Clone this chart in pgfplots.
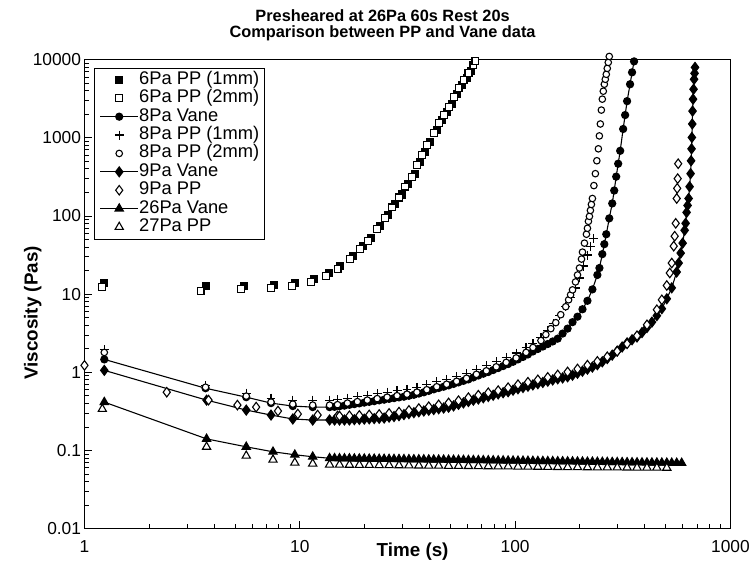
\documentclass[border=0pt]{standalone}
\usepackage{fontspec}
\setmainfont{Liberation Sans}
\usepackage{pgfplots}
\pgfplotsset{compat=1.18}
\begin{document}
\begin{tikzpicture}
\begin{axis}[
 scale only axis, width=650bp, height=472bp,
 xmode=log, ymode=log, xmin=1, xmax=1000, ymin=0.01, ymax=10000,
 xtick={1,10,100,1000}, xticklabels={1,10,100,1000},
 ytick={0.01,0.1,1,10,100,1000,10000}, yticklabels={0.01,0.1,1,10,100,1000,10000},
 minor xtick={2,3,4,5,6,7,8,9,20,30,40,50,60,70,80,90,200,300,400,500,600,700,800,900},
 minor ytick={0.02,0.03,0.04,0.05,0.06,0.07,0.08,0.09,0.2,0.3,0.4,0.5,0.6,0.7,0.8,0.9,2,3,4,5,6,7,8,9,20,30,40,50,60,70,80,90,200,300,400,500,600,700,800,900,2000,3000,4000,5000,6000,7000,8000,9000},
 tick pos=left, tick align=inside, major tick length=8bp, minor tick length=5bp,
 tick style={black, line width=0.9bp},
 axis line style={line width=0.9bp},
 ticklabel style={font=\fontsize{17.5}{17.5}\selectfont},
 xticklabel style={yshift=-8bp},
 clip=false,
 xlabel={Time (s)}, ylabel={Viscosity (Pas)},
 label style={font=\bfseries\fontsize{19}{19}\selectfont},
 xlabel style={at={(rel axis cs:0.508,-0.05)}, anchor=center},
 ylabel style={at={(rel axis cs:-0.08,0.46)}, anchor=center},
 title={Presheared at 26Pa 60s Rest 20s\\Comparison between PP and Vane data},
 title style={at={(rel axis cs:0.4615,1)}, anchor=south, yshift=9bp, align=center, font=\bfseries\fontsize{16.5}{16.5}\selectfont},
 legend style={at={(rel axis cs:0.0154,0.983)}, anchor=north west, draw=black, line width=0.8bp, font=\fontsize{18.5}{18.5}\selectfont, inner xsep=5bp, inner ysep=3bp, row sep=0.5bp, column sep=0bp, nodes={inner sep=0.5bp, text height=13bp, text depth=4bp}},
 legend cell align=left,
 legend image code/.code={\draw[mark repeat=2,mark phase=2] plot coordinates {(0bp,0bp) (19bp,0bp) (38bp,0bp)};},
 every axis plot/.append style={black, line width=1.1bp},
]
% 6Pa PP (1mm)
\addplot[only marks, mark=square*, mark size=3.5pt, mark options={fill=black}] coordinates {
(1.236,13.92) (3.65,12.75) (5.52,12.75) (7.59,13.13) (9.48,13.92) (11.60,15.65) (13.60,18.65) (15.45,22.88) (17.74,30.7) (19.72,41.1) (21.47,51.9) (23.62,73.8) (25.71,101.8) (27.70,140.4) (29.83,188.2) (31.80,259.6) (34.24,347.8) (36.12,494.1) (38.08,661.9) (40.16,887.3) (43.25,1260) (45.61,1689) (48.09,2134) (50.72,2696) (53.48,3613) (56.40,4701) (59.47,5769) (62.71,7081)};
\addlegendentry{6Pa PP (1mm)}
% 6Pa PP (2mm)
\addplot[only marks, mark=square*, mark size=3.5pt, mark options={fill=white}] coordinates {
(1.21,12.38) (3.46,11.02) (5.35,11.68) (7.35,12.0) (9.19,12.75) (11.24,14.33) (13.18,17.08) (14.97,20.96) (17.18,28.1) (19.10,37.6) (20.80,47.6) (22.87,67.6) (24.91,93.2) (26.83,128.6) (28.89,172.3) (30.80,237.8) (33.18,318.6) (34.99,452.5) (36.89,606.3) (38.90,812.6) (41.90,1154) (44.18,1546) (46.59,1954) (49.12,2469) (51.81,3309) (54.63,4307) (57.61,5441) (60.75,6677) (64.06,8438) (65.43,9487)};
\addlegendentry{6Pa PP (2mm)}
% 8Pa Vane
\addplot[mark=*, mark size=3.6pt, mark options={fill=black}] coordinates {
(1.236,1.463) (3.65,0.626) (5.64,0.481) (7.35,0.404) (9.28,0.370) (11.48,0.359) (13.75,0.359) (14.50,0.362) (15.29,0.368) (16.12,0.375) (17.00,0.384) (17.92,0.392) (18.90,0.401) (19.93,0.410) (21.01,0.419) (22.16,0.428) (23.37,0.438) (24.64,0.447) (25.98,0.458) (27.39,0.468) (28.89,0.478) (30.46,0.488) (32.12,0.501) (33.87,0.516) (35.71,0.535) (37.66,0.555) (39.71,0.579) (41.87,0.606) (44.15,0.630) (46.56,0.654) (49.09,0.681) (51.77,0.711) (54.59,0.744) (57.56,0.778) (60.69,0.812) (64.00,0.861) (67.49,0.911) (71.16,0.960) (75.04,1.009) (79.12,1.070) (83.43,1.134) (87.98,1.203) (92.77,1.275) (97.82,1.364) (103.1,1.463) (108.8,1.574) (114.7,1.694) (120.9,1.849) (127.5,1.989) (134.5,2.140) (141.8,2.302) (149.5,2.483) (157.7,2.697) (166.2,3.131) (175.3,3.624) (184.8,4.384) (194.9,5.150) (205.5,6.41) (216.7,8.22) (228.5,11.5) (241.0,17.6) (246.4,21.6) (254.1,32.5) (259.6,43.6) (265.1,58.4) (273.7,93.2) (282.5,144.6) (288.6,211.5) (294.8,318.6) (301.1,466.1) (307.6,681.6) (317.5,1296) (324.3,1954) (331.2,2944) (341.9,4841) (349.3,6876) (356.8,9487)};
\addlegendentry{8Pa Vane}
% 8Pa PP (1mm)
\addplot[only marks, mark=+, mark size=4.5pt, line width=1.2bp] coordinates {
(1.236,1.960) (3.65,0.684) (5.64,0.541) (7.35,0.467) (9.28,0.441) (11.48,0.441) (13.75,0.441) (14.97,0.447) (16.64,0.467) (18.51,0.488) (20.58,0.510) (22.87,0.533) (25.44,0.557) (28.29,0.582) (31.46,0.608) (34.99,0.645) (38.90,0.694) (43.25,0.757) (48.09,0.815) (53.48,0.890) (59.47,0.971) (66.13,1.092) (73.53,1.209) (81.74,1.360) (90.88,1.551) (101.1,1.769) (112.4,2.078) (121.0,2.336) (131.8,2.785) (141.9,3.42) (151.2,4.19) (161.3,5.30) (171.8,6.90) (181.2,8.98) (191.1,12.0) (199.4,16.11) (208.0,22.88) (217.0,31.6) (224.0,41.1) (231.2,51.9)};
\addlegendentry{8Pa PP (1mm)}
% 8Pa PP (2mm)
\addplot[only marks, mark=*, mark size=3.3pt, mark options={fill=white}] coordinates {
(1.236,1.796) (3.65,0.645) (5.64,0.496) (7.35,0.416) (9.28,0.392) (11.48,0.381) (13.75,0.381) (14.97,0.386) (16.64,0.404) (18.51,0.422) (20.58,0.441) (22.87,0.461) (25.44,0.481) (28.29,0.503) (31.46,0.525) (34.99,0.557) (38.90,0.599) (43.25,0.654) (48.09,0.704) (53.48,0.768) (59.47,0.839) (66.13,0.943) (73.53,1.045) (81.74,1.175) (90.88,1.340) (101.1,1.528) (112.4,1.796) (121.0,2.078) (131.8,2.551) (138.9,3.04) (146.5,3.62) (154.5,4.32) (162.9,5.46) (171.8,6.90) (177.2,8.46) (181.0,9.80) (184.8,11.34) (190.8,14.33) (194.9,17.6) (199.1,21.59) (203.4,28.1) (205.5,34.5) (209.9,44.9) (214.4,58.4) (216.7,69.6) (219.0,85.4) (221.4,98.8) (223.7,117.8) (226.1,140.4) (228.5,167.3) (232.2,244.8) (235.9,347.8) (239.6,508.7) (243.6,722.7) (246.2,1057) (248.8,1502) (251.5,2262) (254.1,3121) (256.8,3944) (259.6,4841) (262.3,5603) (265.1,6486) (267.9,7730) (270.8,9213) (273.7,10980)};
\addlegendentry{8Pa PP (2mm)}
% 9Pa Vane
\addplot[mark=diamond*, mark size=5pt, mark options={fill=black}] coordinates {
(1.236,1.060) (3.69,0.441) (5.64,0.329) (7.35,0.284) (9.28,0.253) (11.48,0.245) (13.75,0.2456) (14.50,0.2456) (15.29,0.2456) (16.12,0.2456) (17.00,0.2456) (17.92,0.248) (18.90,0.250) (19.93,0.252) (21.01,0.254) (22.16,0.256) (23.37,0.258) (24.64,0.260) (25.98,0.267) (27.39,0.272) (28.89,0.279) (30.46,0.288) (32.12,0.296) (33.87,0.305) (35.71,0.312) (37.66,0.320) (39.71,0.327) (41.87,0.334) (44.15,0.342) (46.56,0.349) (49.09,0.358) (51.77,0.372) (54.59,0.389) (57.56,0.406) (60.69,0.423) (64.00,0.440) (67.49,0.455) (71.16,0.473) (75.04,0.491) (79.12,0.509) (83.43,0.529) (87.98,0.548) (92.77,0.564) (97.82,0.591) (103.1,0.616) (108.8,0.639) (114.7,0.664) (120.9,0.690) (127.5,0.715) (134.5,0.742) (141.8,0.769) (149.5,0.799) (157.7,0.827) (166.2,0.848) (175.3,0.877) (184.8,0.919) (194.9,0.972) (205.5,1.033) (216.7,1.098) (228.5,1.167) (241.0,1.249) (254.1,1.362) (267.9,1.497) (282.5,1.66) (297.9,1.87) (314.1,2.11) (331.2,2.38) (349.3,2.61) (368.3,2.83) (388.4,3.224) (409.5,3.732) (431.8,4.384) (455.3,5.301) (480.1,6.51) (506.3,8.72) (533.8,12.03) (562.9,19.2) (575.0,25.0) (587.3,33.5) (599.9,44.9) (612.8,65.6) (619.4,80.5) (625.9,111.1) (632.6,136.3) (639.4,167.3) (646.2,237) (653.1,347.8) (656.6,508) (660.0,722.7) (662.1,1010) (664.9,1502) (667.0,2195) (670.6,3121) (674.2,4182) (677.8,5603) (681.4,6677) (685.0,7960)};
\addlegendentry{9Pa Vane}
% 9Pa PP
\addplot[only marks, mark=diamond*, mark size=4.8pt, mark options={fill=white}] coordinates {
(1.00,1.227) (2.41,0.557) (3.77,0.441) (5.13,0.381) (6.27,0.359) (7.92,0.320) (9.79,0.293) (12.10,0.284) (14.97,0.276) (15.29,0.276) (17.00,0.278) (18.90,0.281) (21.01,0.285) (23.37,0.289) (25.98,0.298) (28.89,0.310) (32.12,0.326) (35.71,0.344) (39.71,0.363) (44.15,0.384) (49.09,0.406) (54.59,0.434) (60.69,0.474) (67.49,0.510) (75.04,0.548) (83.43,0.583) (92.77,0.637) (103.1,0.696) (114.7,0.747) (127.5,0.801) (141.8,0.862) (157.7,0.927) (175.3,1.012) (194.9,1.105) (216.7,1.235) (241.0,1.380) (267.9,1.582) (297.9,1.858) (331.2,2.316) (368.3,2.94) (409.5,4.05) (455.3,6.32) (480.1,8.46) (506.3,12.9) (522.7,18.65) (533.8,25.0) (545.3,41.1) (551.1,55.1) (557.0,80.5) (562.9,167.3) (565.9,225.6) (568.9,300.5) (572.0,466.1)};
\addlegendentry{9Pa PP}
% 26Pa Vane
\addplot[mark=triangle*, mark size=4.8pt, mark options={fill=black}] coordinates {
(1.236,0.416) (3.69,0.1408) (5.64,0.1114) (7.51,0.0963) (9.48,0.0882) (11.48,0.0832) (13.75,0.0796) (14.50,0.0795) (15.29,0.0793) (16.12,0.0791) (17.00,0.0790) (17.92,0.0788) (18.90,0.0787) (19.93,0.0785) (21.01,0.0783) (22.16,0.0782) (23.37,0.0780) (24.64,0.0779) (25.98,0.0777) (27.39,0.0776) (28.89,0.0774) (30.46,0.0773) (32.12,0.0771) (33.87,0.0770) (35.71,0.0768) (37.66,0.0767) (39.71,0.0765) (41.87,0.0764) (44.15,0.0762) (46.56,0.0761) (49.09,0.0759) (51.77,0.0758) (54.59,0.0756) (57.56,0.0755) (60.69,0.0753) (64.00,0.0752) (67.49,0.0750) (71.16,0.0749) (75.04,0.0747) (79.12,0.0746) (83.43,0.0744) (87.98,0.0743) (92.77,0.0741) (97.82,0.0740) (103.1,0.0738) (108.8,0.0737) (114.7,0.0735) (120.9,0.0734) (127.5,0.0732) (134.5,0.0731) (141.8,0.0729) (149.5,0.0728) (157.7,0.0726) (166.2,0.0725) (175.3,0.0723) (184.8,0.0722) (194.9,0.0720) (205.5,0.0719) (216.7,0.0717) (228.5,0.0716) (241.0,0.0714) (254.1,0.0713) (267.9,0.0711) (282.5,0.0710) (297.9,0.0708) (314.1,0.0707) (331.2,0.0705) (349.3,0.0704) (368.3,0.0702) (388.4,0.0701) (409.5,0.0700) (431.8,0.0699) (455.3,0.0698) (480.1,0.0697) (506.3,0.0696) (533.8,0.0695) (562.9,0.0694) (593.6,0.0693)};
\addlegendentry{26Pa Vane}
% 27Pa PP
\addplot[only marks, mark=triangle*, mark size=4.8pt, mark options={fill=white}] coordinates {
(1.21,0.339) (3.69,0.1114) (5.64,0.0856) (7.51,0.0761) (9.48,0.0698) (11.48,0.0678) (13.75,0.0658) (15.29,0.0657) (17.00,0.0655) (18.90,0.0653) (21.01,0.0651) (23.37,0.0649) (25.98,0.0647) (28.89,0.0645) (32.12,0.0643) (35.71,0.0641) (39.71,0.0639) (44.15,0.0637) (49.09,0.0635) (54.59,0.0633) (60.69,0.0631) (67.49,0.0629) (75.04,0.0627) (83.43,0.0625) (92.77,0.0623) (103.1,0.0621) (114.7,0.0619) (127.5,0.0617) (141.8,0.0615) (157.7,0.0613) (175.3,0.0611) (194.9,0.0610) (216.7,0.0608) (241.0,0.0607) (267.9,0.0606) (297.9,0.0605) (331.2,0.0604) (368.3,0.0603) (409.5,0.0602) (455.3,0.0601) (506.3,0.0600)};
\addlegendentry{27Pa PP}
\path (rel axis cs:-0.1308,-0.0742) rectangle (rel axis cs:1.0277,1.1271);
\end{axis}
\end{tikzpicture}
\end{document}
